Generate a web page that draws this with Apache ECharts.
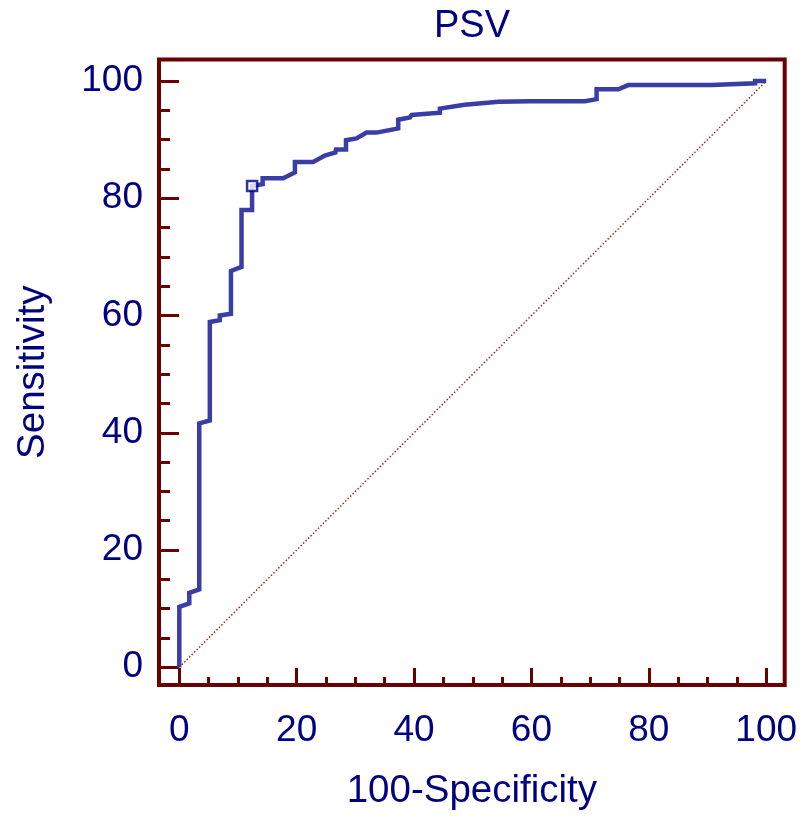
<!DOCTYPE html>
<html>
<head>
<meta charset="utf-8">
<script src="https://cdn.jsdelivr.net/npm/echarts@6/dist/echarts.min.js"></script>
<style>html,body{margin:0;padding:0;background:#fff;}#c{width:801px;height:821px;}</style>
</head>
<body>
<div id="c"></div>
<script>
// ROC curve vertices [100-Specificity, Sensitivity]
const rocX = [0, 0, 1.7, 1.7, 3.4, 3.4, 5.2, 5.2, 6.9, 6.9, 8.8, 8.8, 10.6, 10.6, 12.4, 12.4,
  14.2, 14.2, 17.7, 19.7, 19.7, 22.8, 24.8, 26.6, 26.7, 28.4, 28.4, 30.2, 31.9, 33.6, 37.3, 37.3,
  39.3, 39.6, 44.4, 44.4, 48.6, 54.4, 59.8, 69.1, 71.1, 71.1, 74.8, 76.5, 90.7, 91.0, 98.1, 98.1, 100];
const rocY = [0, 10.3, 10.9, 12.7, 13.3, 41.6, 42.1, 58.9, 59.2, 60.0, 60.3, 67.6, 68.3, 78.0, 78.0, 82.1,
  82.4, 83.4, 83.4, 84.4, 86.2, 86.2, 87.3, 87.8, 88.3, 88.3, 89.9, 90.2, 91.2, 91.2, 91.9, 93.4,
  93.8, 94.2, 94.6, 95.3, 95.95, 96.45, 96.55, 96.55, 96.9, 98.6, 98.6, 99.3, 99.3, 99.6, 99.6, 100, 100];
const cutoffPoint = [12.4, 82.1];
const diagonal = [[0, 0], [100, 100]];
const majorTicks = [0, 20, 40, 60, 80, 100];
const minorTicks = [5, 10, 15, 25, 30, 35, 45, 50, 55, 65, 70, 75, 85, 90, 95];

const navy = '#000080';
const maroon = '#6b0000';
const font = 'Liberation Sans, Arial, sans-serif';

const rocData = rocX.map((x, i) => [x, rocY[i]]);

const xMin = -3.46, xMax = 103.15, yMin = -3.02, yMax = 103.67;

const chart = echarts.init(document.getElementById('c'), null, {renderer: 'canvas'});
chart.setOption({
  animation: false,
  backgroundColor: '#fff',
  title: {
    text: 'PSV', left: 434, top: 8, padding: 0,
    textStyle: {color: navy, fontSize: 38, fontWeight: 'normal', fontFamily: font}
  },
  grid: {
    left: 159, right: 16.3, top: 59.5, bottom: 136,
    show: true, borderColor: maroon, borderWidth: 4, backgroundColor: 'transparent'
  },
  xAxis: [{
    type: 'value', min: xMin, max: xMax, position: 'bottom',
    name: '100-Specificity', nameLocation: 'middle', nameGap: 87,
    nameTextStyle: {color: navy, fontSize: 38.5, fontFamily: font},
    axisLine: {show: false, onZero: false},
    splitLine: {show: false},
    axisTick: {show: true, inside: true, length: 17, customValues: majorTicks,
      lineStyle: {color: maroon, width: 3}},
    axisLabel: {show: true, customValues: majorTicks, margin: 27,
      color: navy, fontSize: 37, fontFamily: font}
  }, {
    type: 'value', min: xMin, max: xMax, position: 'bottom', gridIndex: 0,
    axisLine: {show: false, onZero: false}, splitLine: {show: false},
    axisTick: {show: true, inside: true, length: 8, customValues: minorTicks,
      lineStyle: {color: maroon, width: 3}},
    axisLabel: {show: false}
  }],
  yAxis: [{
    type: 'value', min: yMin, max: yMax, position: 'left',
    name: 'Sensitivity', nameLocation: 'middle', nameGap: 106,
    nameTextStyle: {color: navy, fontSize: 38.5, fontFamily: font},
    axisLine: {show: false, onZero: false},
    splitLine: {show: false},
    axisTick: {show: true, inside: true, length: 20, customValues: majorTicks,
      lineStyle: {color: maroon, width: 3}},
    axisLabel: {show: true, customValues: majorTicks, margin: 16, padding: [8, 0, 0, 0],
      color: navy, fontSize: 37, fontFamily: font}
  }, {
    type: 'value', min: yMin, max: yMax, position: 'left', gridIndex: 0,
    axisLine: {show: false, onZero: false}, splitLine: {show: false},
    axisTick: {show: true, inside: true, length: 11, customValues: minorTicks,
      lineStyle: {color: maroon, width: 3}},
    axisLabel: {show: false}
  }],
  series: [{
    type: 'line', data: diagonal, xAxisIndex: 0, yAxisIndex: 0,
    symbol: 'none', silent: true, z: 1,
    lineStyle: {color: '#a02828', width: 1.5, type: [1.5, 2]}
  }, {
    type: 'line', data: rocData, xAxisIndex: 0, yAxisIndex: 0,
    symbol: 'none', z: 2,
    lineStyle: {color: '#3a3da6', width: 4.5, join: 'miter'}
  }, {
    type: 'scatter', data: [cutoffPoint], xAxisIndex: 0, yAxisIndex: 0,
    symbol: 'rect', symbolSize: 10, z: 3,
    itemStyle: {color: '#fff', borderColor: navy, borderWidth: 2.5}
  }]
});
</script>
</body>
</html>
